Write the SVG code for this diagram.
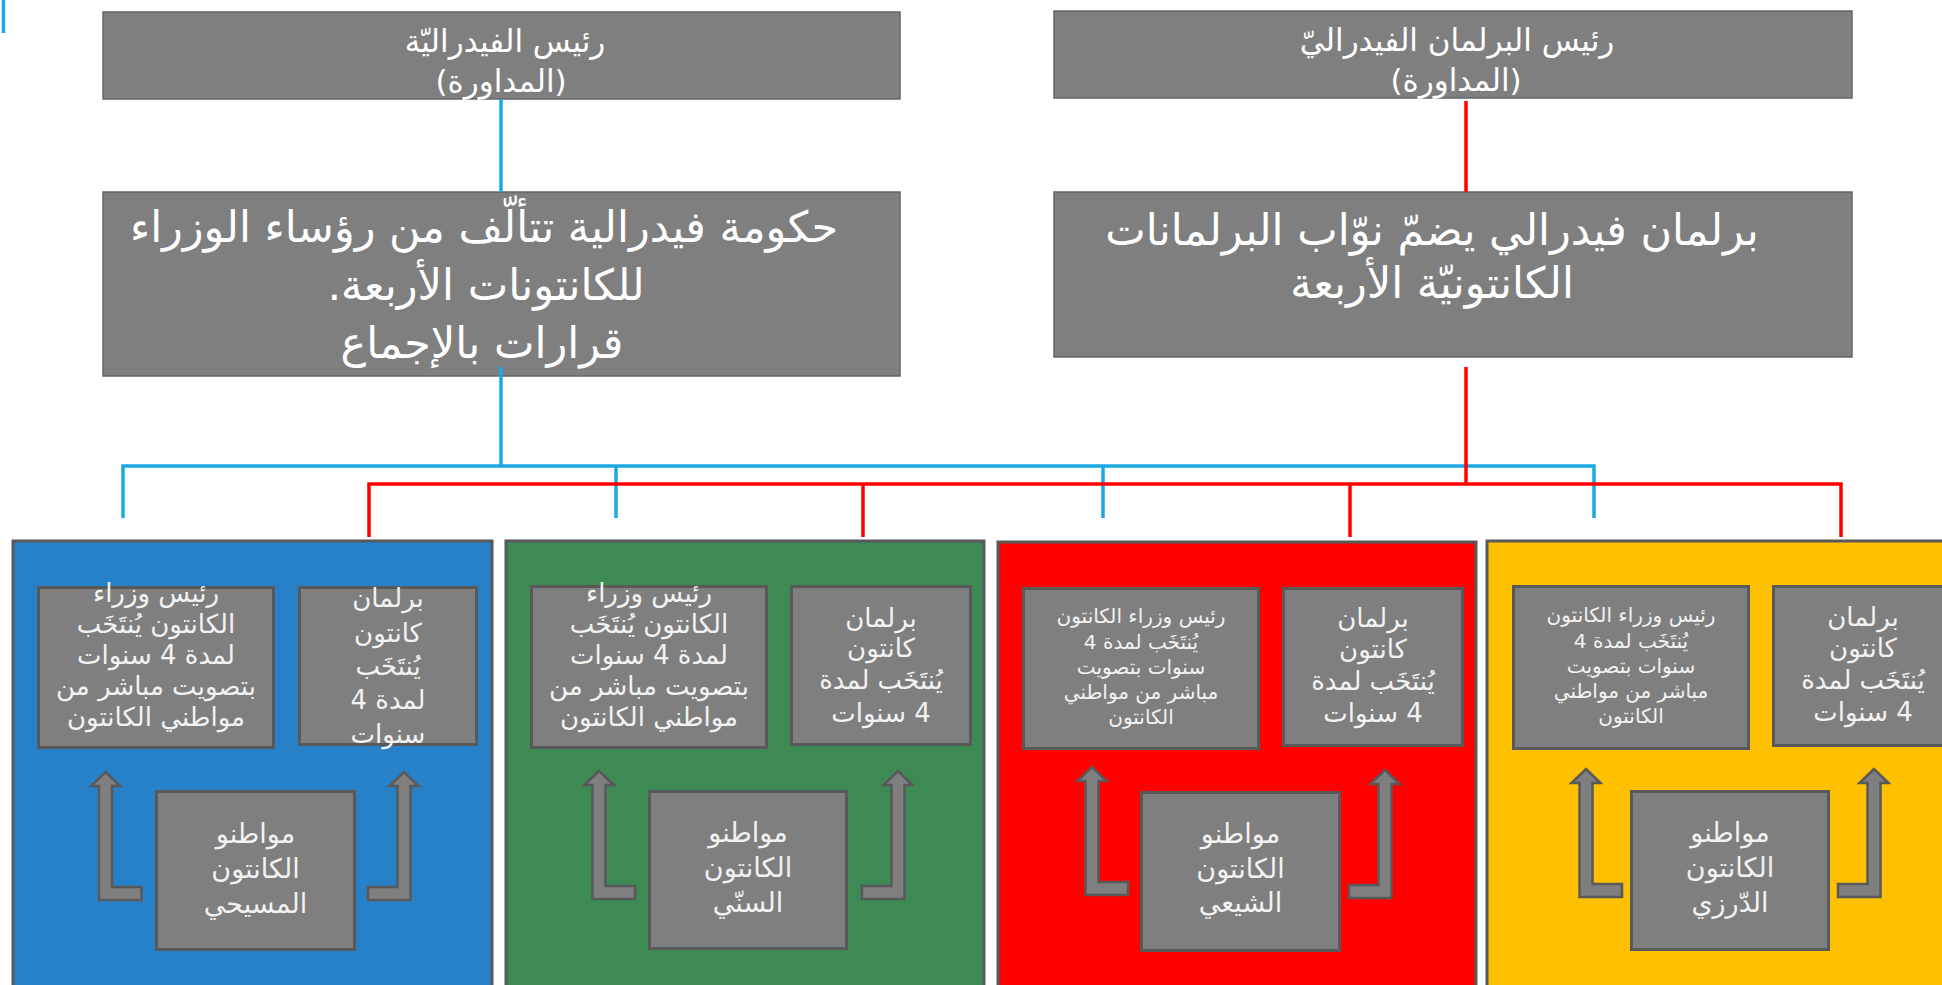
<svg xmlns="http://www.w3.org/2000/svg" xmlns:xlink="http://www.w3.org/1999/xlink" width="1942" height="985" viewBox="0 0 1942 985">
<style>
text{font-family:"DejaVu Sans",sans-serif;direction:rtl;text-anchor:middle;}
.hd{fill:#ffffff;font-size:31px;}
.big{fill:#ffffff;font-size:43px;}
.sm{fill:#f2f2f2;font-size:26px;}
.xs{fill:#f2f2f2;font-size:20px;}
.cz{fill:#f2f2f2;font-size:27px;}
.top{fill:#7f7f7f;stroke:#666666;stroke-width:1.5;}
.box{fill:#7f7f7f;stroke:#595959;stroke-width:3;}
.canton{stroke:#595959;stroke-width:3;}
.arr{fill:#7f7f7f;stroke:#595959;stroke-width:2.5;stroke-linejoin:miter;}
.bl{fill:none;stroke:#1ba8e0;stroke-width:3.5;}
.rd{fill:none;stroke:#ff0000;stroke-width:3.5;}
</style>
<defs>
<path id="arrowL" class="arr" d="M0 0 L14.5 14 L6.5 14 L6.5 115 L36 115 L36 128 L-6.5 128 L-6.5 14 L-14.5 14 Z"/>
<path id="arrowR" class="arr" d="M0 0 L-14.5 14 L-6.5 14 L-6.5 115 L-36 115 L-36 128 L6.5 128 L6.5 14 L14.5 14 Z"/>
</defs>
<rect width="1942" height="985" fill="#ffffff"/>

<g id="president-federation">
<rect class="top" x="103" y="12" width="797" height="87"/>
<text class="hd" x="505" y="52">رئيس الفيدراليّة</text>
<text class="hd" x="501" y="92">(المداورة)</text>
</g>
<g id="president-parliament">
<rect class="top" x="1054" y="11" width="798" height="87"/>
<text class="hd" x="1457" y="51">رئيس البرلمان الفيدراليّ</text>
<text class="hd" x="1456" y="91">(المداورة)</text>
</g>
<g id="federal-government">
<rect class="top" x="103" y="192" width="797" height="184"/>
<text class="big" x="484" y="242">حكومة فيدرالية تتألّف من رؤساء الوزراء</text>
<text class="big" x="486" y="300">للكانتونات الأربعة.</text>
<text class="big" x="482" y="358">قرارات بالإجماع</text>
</g>
<g id="federal-parliament">
<rect class="top" x="1054" y="192" width="798" height="165"/>
<text class="big" x="1432" y="245" font-size="42">برلمان فيدرالي يضمّ نوّاب البرلمانات</text>
<text class="big" x="1432" y="298">الكانتونيّة الأربعة</text>
</g>

<g id="canton-christian">
<rect class="canton" fill="#2681c8" x="13" y="541" width="479" height="470"/>
<rect class="box" x="38.5" y="587.5" width="235" height="160"/>
<text class="sm"><tspan x="156" y="602">رئيس وزراء</tspan><tspan x="156" y="633">الكانتون يُنتَخَب</tspan><tspan x="156" y="664">لمدة 4 سنوات</tspan><tspan x="156" y="695">بتصويت مباشر من</tspan><tspan x="156" y="726">مواطني الكانتون</tspan></text>
<rect class="box" x="299.5" y="587.5" width="177" height="157"/>
<text class="sm"><tspan x="388" y="607">برلمان</tspan><tspan x="388" y="642">كانتون</tspan><tspan x="388" y="675">يُنتَخَب</tspan><tspan x="388" y="709">لمدة 4</tspan><tspan x="388" y="743">سنوات</tspan></text>
<rect class="box" x="156.5" y="791.5" width="198" height="158"/>
<text class="cz"><tspan x="255.5" y="843">مواطنو</tspan><tspan x="255.5" y="878">الكانتون</tspan><tspan x="255.5" y="913">المسيحي</tspan></text>
<use xlink:href="#arrowL" x="105.5" y="772"/>
<use xlink:href="#arrowR" x="404" y="772"/>
</g>

<g id="canton-sunni">
<rect class="canton" fill="#3d8a55" x="506" y="541" width="478" height="470"/>
<rect class="box" x="531.5" y="586.5" width="235" height="161"/>
<text class="sm"><tspan x="649" y="602">رئيس وزراء</tspan><tspan x="649" y="633">الكانتون يُنتَخَب</tspan><tspan x="649" y="664">لمدة 4 سنوات</tspan><tspan x="649" y="695">بتصويت مباشر من</tspan><tspan x="649" y="726">مواطني الكانتون</tspan></text>
<rect class="box" x="791.5" y="586.5" width="179" height="158"/>
<text class="sm"><tspan x="881" y="627">برلمان</tspan><tspan x="881" y="657">كانتون</tspan><tspan x="881" y="689">يُنتَخَب لمدة</tspan><tspan x="881" y="722">4 سنوات</tspan></text>
<rect class="box" x="649.5" y="791.5" width="197" height="157"/>
<text class="cz"><tspan x="748" y="842">مواطنو</tspan><tspan x="748" y="877">الكانتون</tspan><tspan x="748" y="912">السنّي</tspan></text>
<use xlink:href="#arrowL" x="599" y="771"/>
<use xlink:href="#arrowR" x="898" y="771"/>
</g>

<g id="canton-shia">
<rect class="canton" fill="#ff0000" x="998" y="542" width="478" height="470"/>
<rect class="box" x="1023.5" y="588.5" width="235" height="160"/>
<text class="xs"><tspan x="1141" y="623">رئيس وزراء الكانتون</tspan><tspan x="1141" y="649">يُنتَخَب لمدة 4</tspan><tspan x="1141" y="674">سنوات بتصويت</tspan><tspan x="1141" y="699">مباشر من مواطني</tspan><tspan x="1141" y="724">الكانتون</tspan></text>
<rect class="box" x="1283.5" y="588.5" width="179" height="157"/>
<text class="sm"><tspan x="1373" y="627">برلمان</tspan><tspan x="1373" y="658">كانتون</tspan><tspan x="1373" y="690">يُنتَخَب لمدة</tspan><tspan x="1373" y="722">4 سنوات</tspan></text>
<rect class="box" x="1141.5" y="792.5" width="198" height="158"/>
<text class="cz"><tspan x="1240.5" y="843">مواطنو</tspan><tspan x="1240.5" y="878">الكانتون</tspan><tspan x="1240.5" y="912">الشيعي</tspan></text>
<use xlink:href="#arrowL" x="1092" y="767"/>
<use xlink:href="#arrowR" x="1385" y="770"/>
</g>

<g id="canton-druze">
<rect class="canton" fill="#ffc000" x="1487" y="541" width="479" height="470"/>
<rect class="box" x="1513.5" y="586.5" width="235" height="162"/>
<text class="xs"><tspan x="1631" y="622">رئيس وزراء الكانتون</tspan><tspan x="1631" y="648">يُنتَخَب لمدة 4</tspan><tspan x="1631" y="673">سنوات بتصويت</tspan><tspan x="1631" y="698">مباشر من مواطني</tspan><tspan x="1631" y="723">الكانتون</tspan></text>
<rect class="box" x="1773.5" y="586.5" width="179" height="159"/>
<text class="sm"><tspan x="1863" y="626">برلمان</tspan><tspan x="1863" y="657">كانتون</tspan><tspan x="1863" y="689">يُنتَخَب لمدة</tspan><tspan x="1863" y="721">4 سنوات</tspan></text>
<rect class="box" x="1631.5" y="791.5" width="197" height="158"/>
<text class="cz"><tspan x="1730" y="842">مواطنو</tspan><tspan x="1730" y="877">الكانتون</tspan><tspan x="1730" y="912">الدّرزي</tspan></text>
<use xlink:href="#arrowL" x="1586" y="769"/>
<use xlink:href="#arrowR" x="1874" y="769"/>
</g>

<g id="connectors">
<path class="bl" d="M3.5 0 V33"/>
<path class="bl" d="M501 99 V192"/>
<path class="bl" d="M501 367 V466"/>
<path class="bl" d="M123 518 V466 H1594 V518"/>
<path class="bl" d="M616 466 V518"/>
<path class="bl" d="M1103 466 V518"/>
<path class="rd" d="M1466 101 V192"/>
<path class="rd" d="M1466 367 V484"/>
<path class="rd" d="M369 537 V484 H1841 V537"/>
<path class="rd" d="M863 484 V537"/>
<path class="rd" d="M1350 484 V537"/>
</g>
</svg>
